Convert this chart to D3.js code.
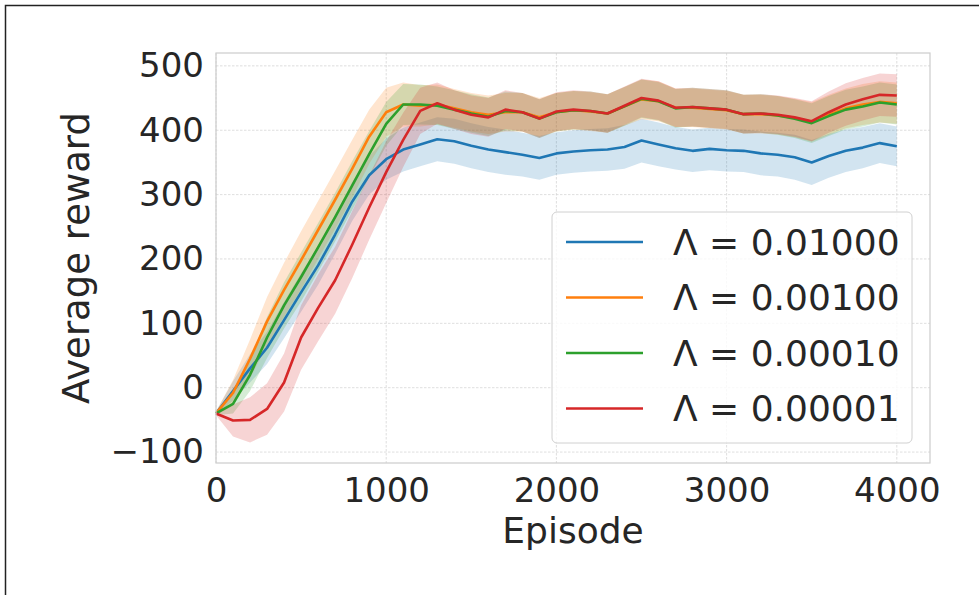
<!DOCTYPE html>
<html>
<head>
<meta charset="utf-8">
<script src="https://cdn.jsdelivr.net/npm/d3@7"></script>
<style>
  body { margin: 0; background: #fff; }
  text { font-family: "DejaVu Sans", sans-serif; fill: #262626; }
</style>
</head>
<body>
<div id="container"></div>
<script>
/* CONSTANTS AND GLOBALS */
const width = 979;
const height = 595;
const frame = {left: 216, right: 930, top: 53, bottom: 463};

/* DATA (one value per 100 episodes) */
const episodes = d3.range(0, 4001, 100);
const labels = ["0.01000", "0.00100", "0.00010", "0.00001"];
const colors = ["#1f77b4", "#ff7f0e", "#2ca02c", "#d62728"];

const meanA = [-40,-5,30,62,105,148,190,238,289,330,355,370,378,386,383,376,370,366,362,357,364,367,369,370,374,384,378,372,368,371,369,368,364,362,358,350,360,368,373,380,375];
const meanB = [-40,-8,45,103,152,198,245,292,340,390,428,440,438,440,434,428,424,428,428,420,428,431,429,426,437,448,445,435,435,433,431,425,425,423,419,413,424,434,440,444,442];
const meanC = [-40,-25,20,78,128,172,218,265,314,363,410,440,440,438,432,426,421,430,428,418,428,431,430,426,437,449,445,434,436,434,432,425,426,423,418,411,422,432,437,443,440];
const meanD = [-40,-51,-50,-33,8,78,124,167,222,280,335,385,430,442,432,424,420,432,428,418,429,432,430,426,438,450,446,435,436,434,432,425,426,424,420,414,428,440,448,455,454];

const spreadA = [3,15,22,25,28,30,30,30,30,30,32,34,34,34,35,35,35,35,34,34,33,33,33,33,34,34,34,33,33,33,33,33,34,34,35,35,34,33,32,31,31];
const spreadB = [3,20,30,38,42,45,45,45,45,42,38,34,32,31,30,30,30,30,30,30,30,30,30,30,30,31,31,30,30,30,30,30,30,30,30,31,31,31,32,32,32];
const spreadC = [3,15,25,32,36,38,38,38,38,36,34,32,31,30,30,30,30,30,30,30,30,30,30,30,30,30,30,30,30,30,30,30,30,30,30,31,31,31,31,31,31];
const spreadD = [3,25,35,40,45,50,52,52,52,50,48,42,36,32,30,30,30,30,30,30,30,30,30,30,30,30,30,30,30,30,30,30,30,30,30,31,32,33,33,33,33];

const xTicks = [0, 1000, 2000, 3000, 4000];
const yTicks = [-100, 0, 100, 200, 300, 400, 500];

const series = [
  {label: labels[0], color: colors[0], mean: meanA, spread: spreadA},
  {label: labels[1], color: colors[1], mean: meanB, spread: spreadB},
  {label: labels[2], color: colors[2], mean: meanC, spread: spreadC},
  {label: labels[3], color: colors[3], mean: meanD, spread: spreadD}
];

/* SCALES */
const xScale = d3.scaleLinear()
  .domain([0, 4195])
  .range([frame.left, frame.right]);

const yScale = d3.scaleLinear()
  .domain([-117, 520])
  .range([frame.bottom, frame.top]);

/* HTML ELEMENTS */
const svg = d3.select("#container")
  .append("svg")
  .attr("width", width)
  .attr("height", height);

// figure border
svg.append("rect")
  .attr("x", 5.5).attr("y", 5.5)
  .attr("width", 1200).attr("height", 1200)
  .attr("fill", "none")
  .attr("stroke", "#222")
  .attr("stroke-width", 1.5);

// grid
const grid = svg.append("g").attr("stroke", "#d6d6d6").attr("stroke-width", 0.8).attr("stroke-dasharray", "2.5,1.5");
grid.selectAll("line.gx")
  .data(xTicks)
  .join("line")
  .attr("x1", d => xScale(d)).attr("x2", d => xScale(d))
  .attr("y1", frame.top).attr("y2", frame.bottom);
grid.selectAll("line.gy")
  .data(yTicks)
  .join("line")
  .attr("y1", d => yScale(d)).attr("y2", d => yScale(d))
  .attr("x1", frame.left).attr("x2", frame.right);

// bands
const area = d3.area()
  .x((d, i) => xScale(episodes[i]))
  .y0(d => yScale(d[0] - d[1]))
  .y1(d => yScale(d[0] + d[1]));

series.forEach(s => {
  svg.append("path")
    .datum(s.mean.map((m, i) => [m, s.spread[i]]))
    .attr("d", area)
    .attr("fill", s.color)
    .attr("fill-opacity", 0.2);
});

// lines
const line = d3.line()
  .x((d, i) => xScale(episodes[i]))
  .y(d => yScale(d));

series.forEach(s => {
  svg.append("path")
    .datum(s.mean)
    .attr("d", line)
    .attr("fill", "none")
    .attr("stroke", s.color)
    .attr("stroke-width", 2.6)
    .attr("stroke-linejoin", "round");
});

// frame
svg.append("rect")
  .attr("x", frame.left).attr("y", frame.top)
  .attr("width", frame.right - frame.left)
  .attr("height", frame.bottom - frame.top)
  .attr("fill", "none")
  .attr("stroke", "#cccccc")
  .attr("stroke-width", 1.2);

// X axis
const xAxis = d3.axisBottom(xScale).tickValues(xTicks).tickSize(0).tickPadding(15)
  .tickFormat(d3.format("d"));
svg.append("g")
  .attr("transform", `translate(0,${frame.bottom})`)
  .call(xAxis)
  .call(g => g.select(".domain").remove())
  .selectAll("text")
  .style("font-size", "34px")
  .attr("fill", "#262626");

// Y axis
const yAxis = d3.axisLeft(yScale).tickValues(yTicks).tickSize(0).tickPadding(12)
  .tickFormat(d => d < 0 ? "\u2212" + Math.abs(d) : d);
svg.append("g")
  .attr("transform", `translate(${frame.left},0)`)
  .call(yAxis)
  .call(g => g.select(".domain").remove())
  .selectAll("text")
  .style("font-size", "34px")
  .attr("fill", "#262626");

// axis labels
svg.append("text")
  .attr("x", (frame.left + frame.right) / 2)
  .attr("y", 543)
  .attr("text-anchor", "middle")
  .style("font-size", "36px")
  .text("Episode");

svg.append("text")
  .attr("transform", `translate(89,${(frame.top + frame.bottom) / 2}) rotate(-90)`)
  .attr("text-anchor", "middle")
  .style("font-size", "37px")
  .text("Average reward");

// legend
const legend = svg.append("g");
legend.append("rect")
  .attr("x", 552).attr("y", 212)
  .attr("width", 360).attr("height", 231)
  .attr("rx", 5)
  .attr("fill", "#fff").attr("fill-opacity", 0.8)
  .attr("stroke", "#d0d0d0").attr("stroke-width", 1);

const rows = legend.selectAll("g.row")
  .data(series)
  .join("g")
  .attr("transform", (d, i) => `translate(0,${242 + i * 55.5})`);

rows.append("line")
  .attr("x1", 566).attr("x2", 643)
  .attr("stroke", d => d.color)
  .attr("stroke-width", 2.6);

rows.append("text")
  .attr("x", 673)
  .attr("dy", "0.36em")
  .style("font-size", "36px")
  .text(d => "\u039B = " + d.label);
</script>
</body>
</html>
